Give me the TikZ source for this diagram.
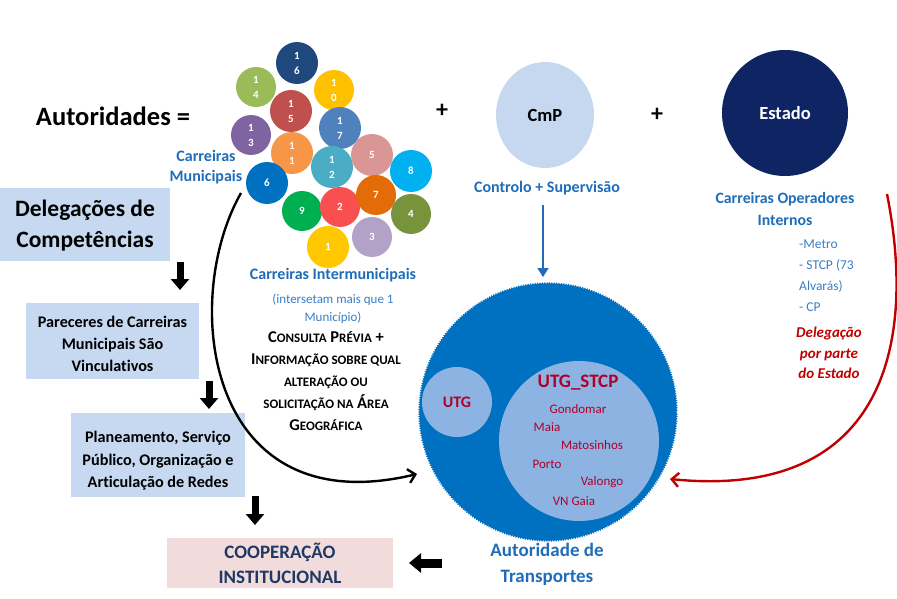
\documentclass[tikz,border=0pt]{standalone}
\usepackage{fontspec}
\setmainfont{Carlito}[Ligatures=NoCommon]
\usetikzlibrary{arrows.meta,decorations.pathmorphing,shapes.geometric}
\definecolor{c16}{HTML}{1F497D}
\definecolor{c14}{HTML}{9BBB59}
\definecolor{c10}{HTML}{FFC000}
\definecolor{c15}{HTML}{C0504D}
\definecolor{c13}{HTML}{8064A2}
\definecolor{c17}{HTML}{4F81BD}
\definecolor{c11}{HTML}{F79646}
\definecolor{c12}{HTML}{4BACC6}
\definecolor{c5}{HTML}{D99694}
\definecolor{c8}{HTML}{00B0F0}
\definecolor{c6}{HTML}{0070C0}
\definecolor{c9}{HTML}{00B050}
\definecolor{c2}{HTML}{F85050}
\definecolor{c7}{HTML}{E36C09}
\definecolor{c4}{HTML}{77933C}
\definecolor{c1}{HTML}{FFC800}
\definecolor{c3}{HTML}{B3A2C7}
\definecolor{boxblue}{HTML}{C6D9F1}
\definecolor{boxpink}{HTML}{F2DCDB}
\definecolor{cmpfill}{HTML}{C6D8EF}
\definecolor{estfill}{HTML}{0F2462}
\definecolor{bigblue}{HTML}{0070C0}
\definecolor{utgfill}{HTML}{8DB3E2}
\definecolor{tblue}{HTML}{1F6DB8}
\definecolor{lblue}{HTML}{3A7DC6}
\definecolor{dred}{HTML}{C00000}
\definecolor{tred}{HTML}{B0002A}
\definecolor{navy}{HTML}{1F3864}
\newcommand\SCx[2]{{\fontsize{16.5}{22}\selectfont #1}{\fontsize{13}{22}\selectfont #2}}
\begin{document}
\begin{tikzpicture}[x=1pt,y=-1pt,
  bub/.style={circle, inner sep=0pt, text=white, align=center, font=\fontsize{11}{15}\selectfont\bfseries},
  lbox/.style={fill=boxblue, inner sep=0pt},
  boxtxt/.style={align=center, inner sep=0pt, font=\fontsize{16.2}{22}\selectfont\bfseries},
  blk/.style={line width=7pt, -{Triangle[width=18pt,length=11pt]}},
  bluelbl/.style={text=tblue, align=center, font=\fontsize{16}{20}\selectfont\bfseries},
  smallblue/.style={text=lblue, align=center, font=\fontsize{13}{18}\selectfont},
  townlbl/.style={text=tred, font=\fontsize{13}{16}\selectfont, inner sep=0pt}]
\useasboundingbox (0,0) rectangle (897,599);

% bubbles
\foreach \n/\x/\y/\r/\c/\t in {
  b16/297/63/21/c16/{1\\6}, b14/256/87/20/c14/{1\\4}, b10/334/90/20/c10/{1\\0},
  b15/291/111/21/c15/{1\\5}, b13/251/135/20/c13/{1\\3}, b17/340/128/21/c17/{1\\7},
  b11/292/153/21/c11/{1\\1}, b12/332/167/21/c12/{1\\2}, b5/372/155/21/c5/5,
  b8/411/171/21/c8/8, b6/267/183/21/c6/6, b9/302/211/20/c9/9, b2/340/207/20/c2/2,
  b7/376/195/20/c7/7, b4/411/214/20/c4/4, b1/328/247/21/c1/1, b3/372/237/20/c3/3}
  \node[bub, fill=\c, minimum size={2*\r*1pt}] (\n) at (\x,\y) {\t};

% title and plus signs
\node[font=\fontsize{26.5}{30}\selectfont\bfseries] (aut) at (113,116) {Autoridades =};
\node[font=\fontsize{24}{28}\selectfont\bfseries] (plus1) at (442,111) {+};
\node[font=\fontsize{24}{28}\selectfont\bfseries] (plus2) at (657,115) {+};

% CmP and Estado
\node[ellipse, fill=cmpfill, minimum width=98pt, minimum height=106pt, inner sep=0pt,
  font=\fontsize{18.5}{20}\selectfont\bfseries] (cmp) at (545,115) {CmP};
\node[circle, fill=estfill, minimum size=126pt, inner sep=0pt, text=white,
  font=\fontsize{18.5}{20}\selectfont\bfseries] (est) at (785,113) {Estado};
\node[bluelbl, font=\fontsize{16}{20}\selectfont\bfseries] (ctrl) at (547,188) {Controlo + Supervisão};
\node[bluelbl, font=\fontsize{15.8}{22}\selectfont\bfseries] (coi) at (785,209) {Carreiras Operadores\\Internos};
\node[text=lblue, align=left, anchor=north west, inner sep=0pt, font=\fontsize{13.5}{21}\selectfont] (lst) at (799,240)
  {-Metro\\- STCP (73\\Alvarás)\\- CP};
\node[text=dred, align=center, font=\fontsize{15}{20.5}\selectfont\bfseries\itshape] (deleg) at (829,353)
  {Delegação\\por parte\\do Estado};

% Carreiras labels
\node[bluelbl] (cmun) at (206,167) {Carreiras\\Municipais};
\node[bluelbl] (cint) at (333,275) {Carreiras Intermunicipais};
\node[smallblue] (inters) at (333,309) {(intersetam mais que 1\\Município)};
\node[align=center, font=\fontsize{16.5}{22}\selectfont\bfseries] (consulta) at (326,381)
  {\SCx{C}{ONSULTA} \SCx{P}{RÉVIA} +\\
   \SCx{I}{NFORMAÇÃO SOBRE QUAL}\\
   \SCx{}{ALTERAÇÃO OU}\\
   \SCx{}{SOLICITAÇÃO NA} \SCx{Á}{REA}\\
   \SCx{G}{EOGRÁFICA}};

% big circle
\fill[bigblue, decorate, decoration={zigzag, segment length=2.4pt, amplitude=0.9pt}] (548,412) circle[radius=129pt];
\node[circle, minimum size=258pt, inner sep=0pt] (big) at (548,412) {};
\node[circle, fill=utgfill, minimum size=70pt, inner sep=0pt, text=tred,
  font=\fontsize{16}{20}\selectfont\bfseries] (utg) at (457,402) {UTG};
\node[circle, fill=utgfill, minimum size=160pt, inner sep=0pt] (stcp) at (579,441) {};
\node[text=tred, font=\fontsize{19}{22}\selectfont\bfseries] (stcpt) at (578,383) {UTG\_STCP};
\node[townlbl] (t1) at (578,409) {Gondomar};
\node[townlbl] (t2) at (547,427) {Maia};
\node[townlbl] (t3) at (592,445) {Matosinhos};
\node[townlbl] (t4) at (547,464) {Porto};
\node[townlbl] (t5) at (602,482) {Valongo};
\node[townlbl] (t6) at (574,501) {VN Gaia};
\node[bluelbl, font=\fontsize{19}{26}\selectfont\bfseries] (atr) at (547,564) {Autoridade de\\Transportes};

% left boxes
\node[lbox, minimum width=170pt, minimum height=73pt] (dc) at (85,224) {};
\node[boxtxt, font=\fontsize{23.5}{31}\selectfont\bfseries] (dct) at (85,226) {Delegações de\\Competências};
\node[lbox, minimum width=173pt, minimum height=76pt] (par) at (112.5,341) {};
\node[boxtxt] (part) at (112.5,344) {Pareceres de Carreiras\\Municipais São\\Vinculativos};
\node[lbox, minimum width=174pt, minimum height=84pt] (pla) at (158,455) {};
\node[boxtxt, font=\fontsize{16.2}{22.5}\selectfont\bfseries] (plat) at (158,461) {Planeamento, Serviço\\Público, Organização e\\Articulação de Redes};
\node[lbox, fill=boxpink, text=navy, align=center, minimum width=226pt, minimum height=50pt,
  font=\fontsize{19}{25}\selectfont\bfseries] (coop) at (280,563) {COOPERAÇÃO\\INSTITUCIONAL};

% block arrows
\coordinate (a1s) at (180,262); \coordinate (a1e) at (180,290);
\coordinate (a2s) at (209,381); \coordinate (a2e) at (209,409);
\coordinate (a3s) at (255,496); \coordinate (a3e) at (255,525);
\coordinate (a4s) at (442,563); \coordinate (a4e) at (409,563);
\draw[blk] (a1s) -- (a1e);
\draw[blk] (a2s) -- (a2e);
\draw[blk] (a3s) -- (a3e);
\draw[blk, line width=9pt, -{Triangle[width=19pt,length=12pt]}] (a4s) -- (a4e);

% connectors
\coordinate (k1) at (241,193); \coordinate (k2) at (417,474);
\draw[line width=2.4pt, -{Straight Barb[length=7pt,width=14pt]}] (k1) .. controls (180,300) and (205,525) .. (k2);
\coordinate (r1) at (887,194); \coordinate (r2) at (670,479);
\draw[dred, line width=2.4pt, -{Straight Barb[length=7pt,width=14pt]}] (r1) .. controls (918,350) and (880,500) .. (r2);
\coordinate (v1) at (543,205); \coordinate (v2) at (543,277);
\draw[tblue, line width=1.8pt, -{Triangle[length=9pt,width=11pt]}] (v1) -- (v2);
\end{tikzpicture}
\end{document}
